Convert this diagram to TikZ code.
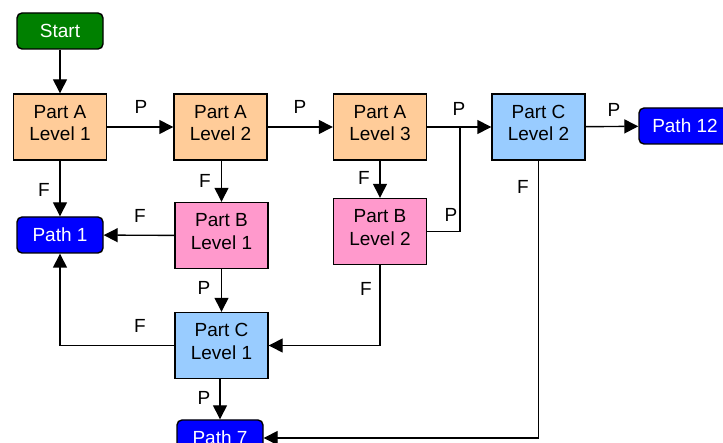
\documentclass[tikz,border=0pt]{standalone}
\usepackage{fontspec}
\setmainfont{Liberation Sans}
\usetikzlibrary{arrows.meta}
\definecolor{startgreen}{RGB}{0,128,0}
\definecolor{partA}{RGB}{255,204,153}
\definecolor{partB}{RGB}{255,153,204}
\definecolor{partC}{RGB}{153,204,255}
\definecolor{pathblue}{RGB}{0,0,255}
\begin{document}
\begin{tikzpicture}[x=1pt,y=-1pt,
  every node/.style={font=\fontsize{19}{22.5}\selectfont},
  box/.style={draw=black,line width=1.4pt,minimum width=93pt,minimum height=66pt,inner sep=0pt,align=center,text depth=8pt},
  boxA/.style={box,fill=partA},
  boxB/.style={box,fill=partB},
  boxC/.style={box,fill=partC},
  term/.style={draw=black,line width=1.4pt,rounded corners=5pt,minimum width=86pt,minimum height=36pt,inner sep=0pt,text=white},
  conn/.style={line width=1.4pt,-{Triangle[length=14pt,width=14pt]}},
  plain/.style={line width=1.4pt},
  lbl/.style={inner sep=0pt}
]
\clip (0,0) rectangle (723,443);
\fill[white] (0,0) rectangle (723,443);

\node[term,fill=startgreen] (start) at (60,31) {Start};
\node[boxA] (a1) at (60,127) {Part A\\Level 1};
\node[boxA] (a2) at (220.5,127) {Part A\\Level 2};
\node[boxA] (a3) at (380,127) {Part A\\Level 3};
\node[boxC] (c2) at (538.5,127) {Part C\\Level 2};
\node[term,fill=pathblue,minimum width=92pt] (p12) at (685,126) {Path 12};
\node[term,fill=pathblue] (p1) at (60,235) {Path 1};
\node[boxB] (b1) at (221.5,235.5) {Part B\\Level 1};
\node[boxB] (b2) at (380,231.5) {Part B\\Level 2};
\node[boxC] (c1) at (221.5,345.5) {Part C\\Level 1};
\node[term,fill=pathblue] (p7) at (220,438) {Path 7};
\coordinate (j) at (460,127);

\draw[conn] (start) -- (a1);
\draw[conn] (a1) -- (a2);
\draw[conn] (a2) -- (a3);
\draw[conn] (a3) -- (c2);
\draw[plain] (b2.east) -| (j);
\draw[conn] (c2) -- (p12);
\draw[conn] (c2.south) |- (p7.east);
\draw[conn] (a1) -- (p1);
\draw[conn] (a2.south -| b1) -- (b1);
\draw[conn] (a3) -- (b2);
\draw[conn] (b1) -- (p1);
\draw[conn] (b1) -- (c1);
\draw[conn] (c1.west) -| (p1.south);
\draw[conn] (b2.south) |- (c1.east);
\draw[conn] (c1.south -| p7) -- (p7);

\node[lbl] (l1) at (141,107) {P};
\node[lbl] (l2) at (300,107) {P};
\node[lbl] (l3) at (459,109) {P};
\node[lbl] (l4) at (451,215) {P};
\node[lbl] (l5) at (614,110) {P};
\node[lbl] (l6) at (523,187) {F};
\node[lbl] (l7) at (44,190) {F};
\node[lbl] (l8) at (205,181) {F};
\node[lbl] (l9) at (364,178) {F};
\node[lbl] (l10) at (140,216) {F};
\node[lbl] (l11) at (204,288) {P};
\node[lbl] (l12) at (140,326) {F};
\node[lbl] (l13) at (366,289) {F};
\node[lbl] (l14) at (204,398) {P};
\end{tikzpicture}
\end{document}
